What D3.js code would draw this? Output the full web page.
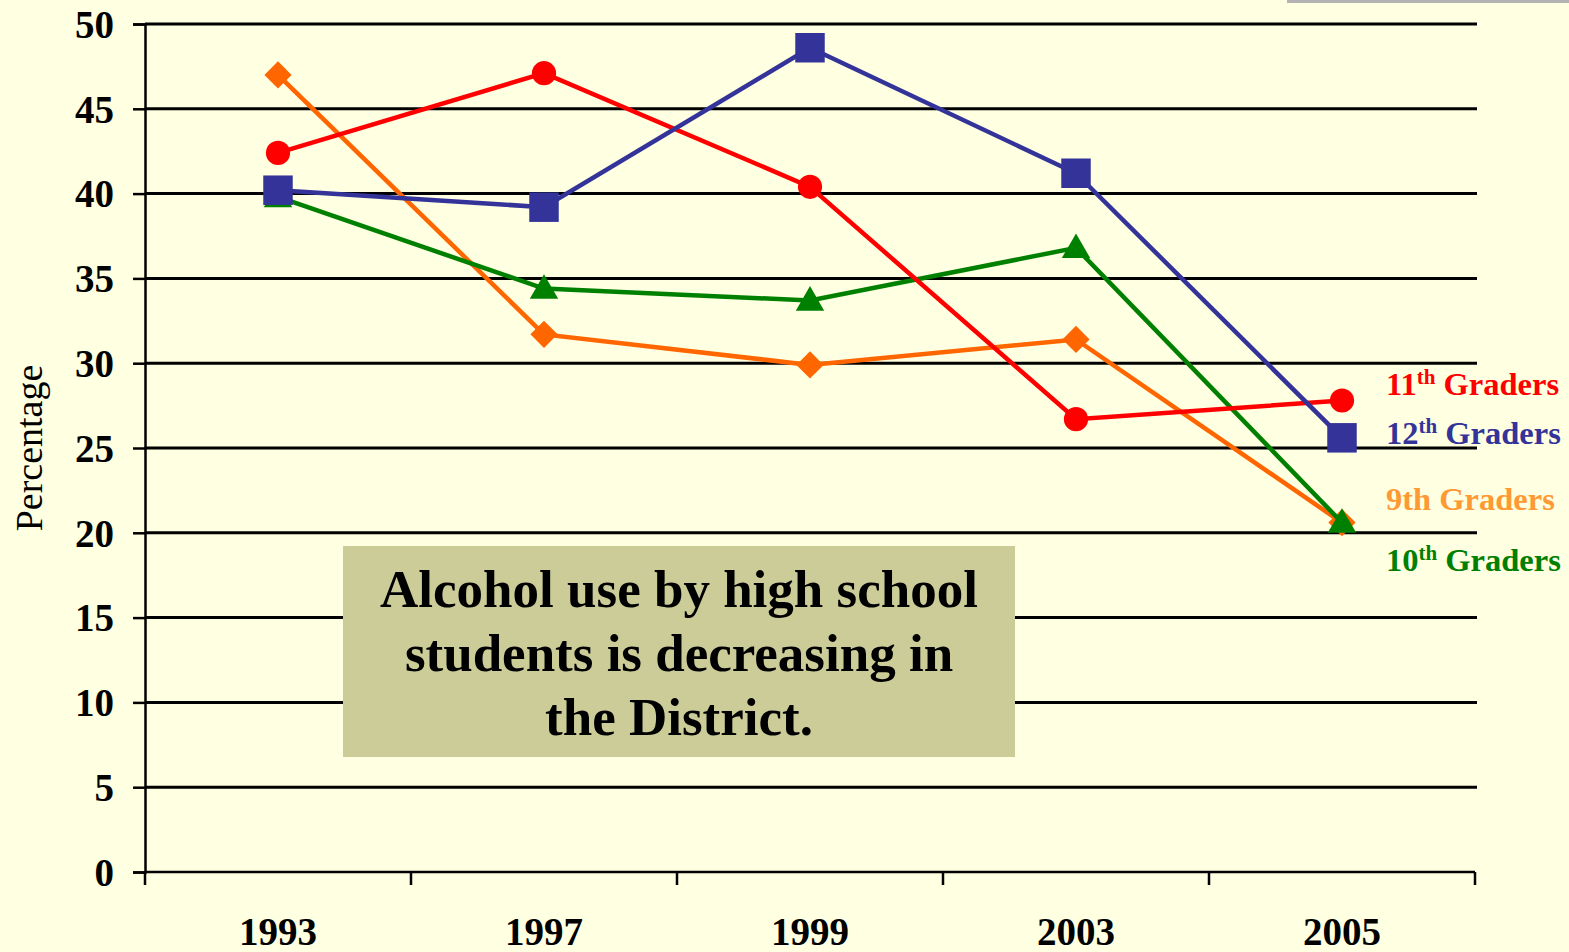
<!DOCTYPE html>
<html>
<head>
<meta charset="utf-8">
<script src="https://cdn.jsdelivr.net/npm/d3@7"></script>
<style>
  html, body { margin: 0; padding: 0; background: #ffffe1; }
  svg { display: block; font-family: "Liberation Serif", "Times New Roman", serif; }
</style>
</head>
<body>
<svg id="chart" width="1569" height="952"></svg>
<script>
// data
let years = ["1993", "1997", "1999", "2003", "2005"];
let grade9 = [47.0, 31.7, 29.9, 31.4, 20.6];
let grade10 = [39.8, 34.4, 33.7, 36.8, 20.6];
let grade11 = [42.4, 47.1, 40.4, 26.7, 27.8];
let grade12 = [40.2, 39.2, 48.6, 41.2, 25.6];
let yTicks = [0, 5, 10, 15, 20, 25, 30, 35, 40, 45, 50];
let note = ["Alcohol use by high school", "students is decreasing in", "the District."];

// drawing order: orange under, blue on top
let series = [
  {key: "9th", values: grade9, color: "#ff6600", symbol: "diamond"},
  {key: "10th", values: grade10, color: "#008000", symbol: "triangle"},
  {key: "11th", values: grade11, color: "#ff0000", symbol: "circle"},
  {key: "12th", values: grade12, color: "#333399", symbol: "square"}
];

// right hand labels
let labels = [
  {num: "11", sup: "th", rest: " Graders", color: "#ff0000", y: 395},
  {num: "12", sup: "th", rest: " Graders", color: "#333399", y: 444},
  {num: "9th", sup: "", rest: " Graders", color: "#ff9933", y: 510},
  {num: "10", sup: "th", rest: " Graders", color: "#008000", y: 571}
];

let svg = d3.select("#chart");

let margin = {top: 24, left: 145, right: 94, bottom: 80};
let width = 1569, height = 952;

let x = d3.scaleBand()
  .domain(years)
  .range([margin.left, width - margin.right])
  .padding(0);

let y = d3.scaleLinear()
  .domain([0, 50])
  .range([height - margin.bottom, margin.top]);

// little grey strip top right
svg.append("rect")
  .attr("x", 1287).attr("y", 0)
  .attr("width", 282).attr("height", 3)
  .attr("fill", "#b3b3b3");

// gridlines
svg.append("g")
  .selectAll("line")
  .data(yTicks.filter(d => d > 0))
  .join("line")
    .attr("x1", margin.left)
    .attr("x2", width - margin.right + 2)
    .attr("y1", d => y(d))
    .attr("y2", d => y(d))
    .attr("stroke", "#000")
    .attr("stroke-width", 3);

// y axis
let yAxis = d3.axisLeft(y).tickValues(yTicks).tickSize(12).tickPadding(19);
let yGroup = svg.append("g")
  .attr("transform", "translate(" + margin.left + ",0)")
  .call(yAxis);
yGroup.select(".domain").attr("stroke-width", 2.5);
yGroup.selectAll(".tick line").attr("stroke-width", 2.5);
yGroup.selectAll(".tick text")
  .attr("font-family", "Liberation Serif, serif")
  .attr("font-size", 39)
  .attr("font-weight", "bold")
  .attr("fill", "#000")
  .attr("dy", "0.34em");

// x axis, ticks at band edges
let xGroup = svg.append("g")
  .attr("transform", "translate(0," + y(0) + ")");
xGroup.append("line")
  .attr("x1", margin.left).attr("x2", width - margin.right)
  .attr("stroke", "#000").attr("stroke-width", 2.5);
let edges = years.map(d => x(d)).concat([x(years[years.length - 1]) + x.bandwidth()]);
xGroup.selectAll("line.edge")
  .data(edges)
  .join("line")
    .attr("class", "edge")
    .attr("x1", d => d).attr("x2", d => d)
    .attr("y1", 0).attr("y2", 13)
    .attr("stroke", "#000").attr("stroke-width", 2.5);
xGroup.selectAll("text")
  .data(years)
  .join("text")
    .attr("x", d => x(d) + x.bandwidth() / 2)
    .attr("y", 73)
    .attr("text-anchor", "middle")
    .attr("font-size", 39)
    .attr("font-weight", "bold")
    .text(d => d);

// y label
svg.append("text")
  .attr("transform", "translate(42,448) rotate(-90)")
  .attr("text-anchor", "middle")
  .attr("font-size", 38)
  .text("Percentage");

// lines + markers
let cx = (d, i) => x(years[i]) + x.bandwidth() / 2;
let line = d3.line().x(cx).y(d => y(d));

let symbols = {
  circle: d3.symbol(d3.symbolCircle, 460),
  square: d3.symbol(d3.symbolSquare, 870),
  diamond: d3.symbol(d3.symbolSquare, 370),
  triangle: d3.symbol(d3.symbolTriangle, 350)
};

series.forEach(s => {
  let g = svg.append("g").attr("class", "series-" + s.key);
  g.append("path")
    .attr("d", line(s.values))
    .attr("fill", "none")
    .attr("stroke", s.color)
    .attr("stroke-width", 4.5);
  g.selectAll("path.mark")
    .data(s.values)
    .join("path")
      .attr("class", "mark")
      .attr("d", symbols[s.symbol]())
      .attr("transform", (d, i) => "translate(" + cx(d, i) + "," + y(d) + ")" +
        (s.symbol == "diamond" ? " rotate(45)" : "") +
        (s.symbol == "triangle" ? " translate(0,2)" : ""))
      .attr("fill", s.color);
});

// labels at the right
let lab = svg.append("g").selectAll("text")
  .data(labels)
  .join("text")
    .attr("x", 1386)
    .attr("y", d => d.y)
    .attr("font-size", 32.5)
    .attr("font-weight", "bold")
    .attr("fill", d => d.color);
lab.append("tspan").text(d => d.num);
lab.append("tspan")
  .attr("dy", d => d.sup ? -11 : 0)
  .attr("font-size", 21)
  .text(d => d.sup);
lab.append("tspan")
  .attr("dy", d => d.sup ? 11 : 0)
  .text(d => d.rest);

// the note box
let box = svg.append("g");
box.append("rect")
  .attr("x", 343).attr("y", 546)
  .attr("width", 672).attr("height", 211)
  .attr("fill", "#cccc99");
box.selectAll("text")
  .data(note)
  .join("text")
    .attr("x", 679)
    .attr("y", (d, i) => 607 + i * 64)
    .attr("text-anchor", "middle")
    .attr("font-size", 53)
    .attr("font-weight", "bold")
    .attr("fill", "#000")
    .text(d => d);
</script>
</body>
</html>
